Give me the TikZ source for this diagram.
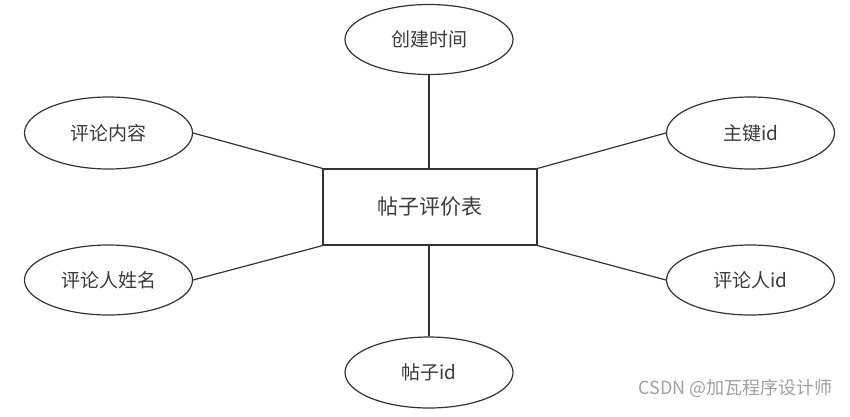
\documentclass[tikz,border=0pt]{standalone}
\usepackage{fontspec}
\setmainfont{Noto Sans CJK SC}
\usetikzlibrary{shapes.geometric}
\definecolor{ln}{HTML}{333333}
\definecolor{tx}{HTML}{3A3A3A}
\definecolor{wm}{HTML}{A0A0A0}
\begin{document}
\begin{tikzpicture}[x=1pt,y=-1pt,
  attr/.style={ellipse,draw=ln,line width=1.2pt,minimum width=168pt,minimum height=70pt,inner sep=0pt,text=tx,font=\fontsize{19}{22}\selectfont},
  ent/.style={rectangle,draw=ln,line width=1.2pt,minimum width=214pt,minimum height=76pt,inner sep=0pt,text=tx,font=\fontsize{21}{24}\selectfont},
  conn/.style={draw=ln,line width=1.2pt}]
\useasboundingbox (0,0) rectangle (850,416);
\node[ent] (e) at (430,207) {帖子评价表};
\node[attr] (t) at (429,39.5) {创建时间};
\node[attr,minimum height=72pt] (lt) at (108.5,133) {评论内容};
\node[attr,minimum height=72pt] (rt) at (750.5,133) {主键id};
\node[attr] (lb) at (108.5,280) {评论人姓名};
\node[attr] (rb) at (750.5,280) {评论人id};
\node[attr,minimum height=71pt] (b) at (429,372.5) {帖子id};
\draw[conn] (t.south) -- (t.south |- e.north);
\draw[conn] (b.north) -- (b.north |- e.south);
\draw[conn] (lt.east) -- (e.north west);
\draw[conn] (rt.west) -- (e.north east);
\draw[conn] (lb.east) -- (e.south west);
\draw[conn] (rb.west) -- (e.south east);
\node[text=wm,font=\fontsize{18}{20}\selectfont,anchor=east,inner sep=0pt] (w) at (833,388) {CSDN @加瓦程序设计师};
\end{tikzpicture}
\end{document}
